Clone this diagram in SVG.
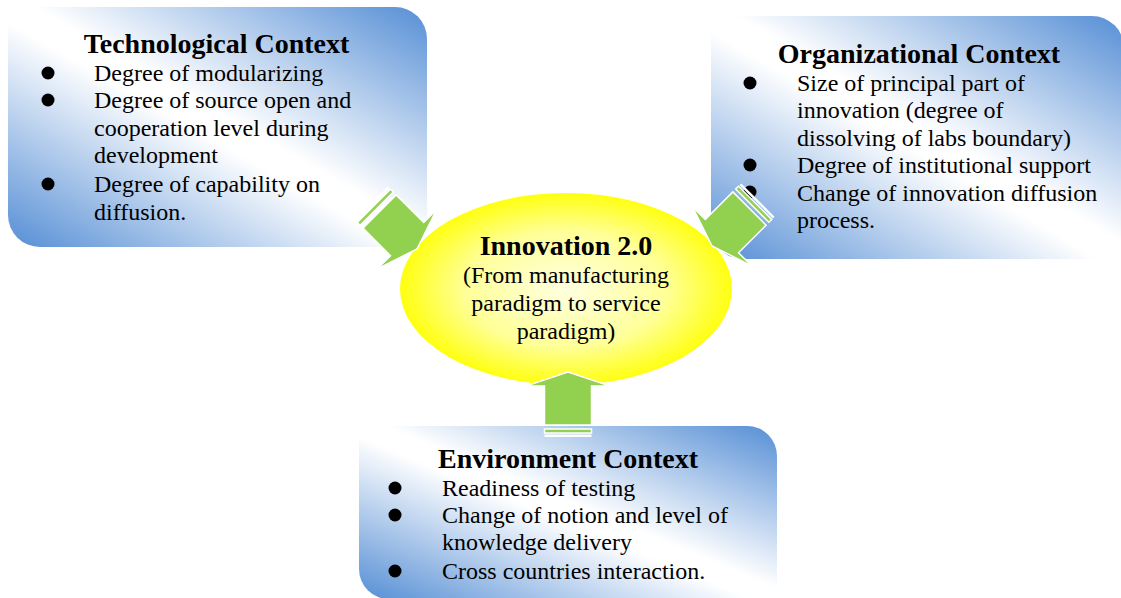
<svg xmlns="http://www.w3.org/2000/svg" width="1121" height="598" viewBox="0 0 1121 598">
<style>
text{font-family:"Liberation Serif",Tinos,"Times New Roman",serif;fill:#000}
.t{font-size:28px;font-weight:700;text-anchor:middle}
.b{font-size:24px;font-weight:400}
.c{font-size:24px;font-weight:400;text-anchor:middle}
.dot{fill:#000}
.box{fill:url(#blue)}
.arr{fill:#92d050;stroke:#fff;stroke-width:1.5;stroke-linejoin:miter}
</style>
<defs>
<linearGradient id="blue" x1="1" y1="0" x2="0" y2="1">
<stop offset="0" stop-color="#558ed5"/>
<stop offset="0.47" stop-color="#ffffff"/>
<stop offset="0.53" stop-color="#ffffff"/>
<stop offset="1" stop-color="#558ed5"/>
</linearGradient>
<radialGradient id="yel" cx="0.5" cy="0.5" r="0.5">
<stop offset="0" stop-color="#ffffe0"/>
<stop offset="0.6" stop-color="#ffff99"/>
<stop offset="1" stop-color="#ffff10"/>
</radialGradient>
<g id="blockArrow">
<path class="arr" d="M0,0 L-14,-42 L-14,-23.5 L-53,-23.5 L-53,23.5 L-14,23.5 L-14,42 Z"/>
<rect class="arr" x="-61" y="-23.5" width="4" height="47"/>
<rect x="-65" y="-23.5" width="2.5" height="47" fill="#fff"/>
</g>
</defs>
<rect width="1121" height="598" fill="#fff"/>
<g id="technological">
<path class="box" d="M8,7 H395 A32,32 0 0 1 427,39 V247 H40 A32,32 0 0 1 8,215 Z"/>
<text class="t" x="216.5" y="53">Technological Context</text>
<circle class="dot" cx="48" cy="73" r="6.5"/>
<circle class="dot" cx="48" cy="100" r="6.5"/>
<circle class="dot" cx="48" cy="184" r="6.5"/>
<text class="b" x="94" y="81">Degree of modularizing</text>
<text class="b" x="94" y="108">Degree of source open and</text>
<text class="b" x="94" y="136">cooperation level during</text>
<text class="b" x="94" y="163">development</text>
<text class="b" x="94" y="192">Degree of capability on</text>
<text class="b" x="94" y="220">diffusion.</text>
</g>
<g id="organizational">
<path class="box" d="M711,16 H1092 A32,32 0 0 1 1124,48 V259 H743 A32,32 0 0 1 711,227 Z"/>
<text class="t" x="919" y="63">Organizational Context</text>
<circle class="dot" cx="750" cy="83" r="6.5"/>
<circle class="dot" cx="750" cy="165" r="6.5"/>
<circle class="dot" cx="750" cy="192" r="6.5"/>
<text class="b" x="797" y="91">Size of principal part of</text>
<text class="b" x="797" y="118">innovation (degree of</text>
<text class="b" x="797" y="146">dissolving of labs boundary)</text>
<text class="b" x="797" y="173">Degree of institutional support</text>
<text class="b" x="797" y="201">Change of innovation diffusion</text>
<text class="b" x="797" y="228">process.</text>
</g>
<g id="environment">
<path class="box" d="M359,426 H747 A30,30 0 0 1 777,456 V599 H389 A30,30 0 0 1 359,569 Z"/>
<text class="t" x="568" y="468">Environment Context</text>
<circle class="dot" cx="395" cy="488" r="6.5"/>
<circle class="dot" cx="395" cy="515" r="6.5"/>
<circle class="dot" cx="395" cy="571" r="6.5"/>
<text class="b" x="442" y="496">Readiness of testing</text>
<text class="b" x="442" y="523">Change of notion and level of</text>
<text class="b" x="442" y="550">knowledge delivery</text>
<text class="b" x="442" y="579">Cross countries interaction.</text>
</g>
<g id="innovation">
<ellipse cx="566" cy="289" rx="166" ry="96" fill="url(#yel)"/>
<text class="t" x="566" y="255">Innovation 2.0</text>
<text class="c" x="566" y="283">(From manufacturing</text>
<text class="c" x="566" y="311">paradigm to service</text>
<text class="c" x="566" y="339">paradigm)</text>
</g>
<g id="connectors">
<use href="#blockArrow" transform="translate(417,249) rotate(45)"/>
<use href="#blockArrow" transform="translate(712,246) rotate(135)"/>
<use href="#blockArrow" transform="translate(568,372) rotate(-90)"/>
</g>
</svg>
